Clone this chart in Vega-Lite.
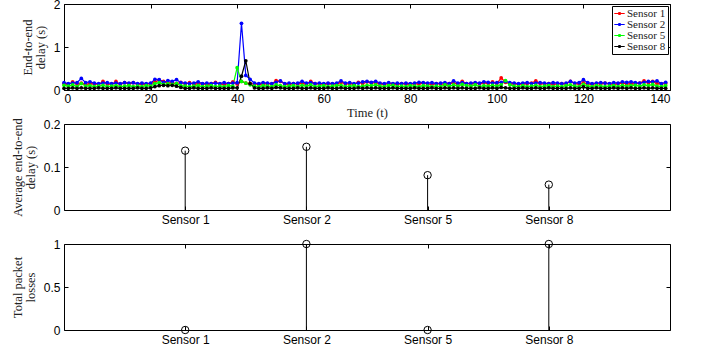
{
"$schema": "https://vega.github.io/schema/vega-lite/v6.json",
"padding": {"left": 10, "top": -3, "right": 0, "bottom": 0},
"background": "white",
"config": {
  "view": {"stroke": "black", "strokeWidth": 1},
  "axis": {"domain": false, "grid": false, "tickColor": "black", "tickSize": -4, "tickWidth": 1, "labelFont": "Liberation Sans", "labelFontSize": 12, "labelColor": "black", "titleFont": "Liberation Serif", "titleFontSize": 12.5, "titleFontWeight": "normal", "titleColor": "#222", "titleLineHeight": 13, "labelPadding": 8},
  "legend": {"labelFont": "Liberation Serif", "labelFontSize": 11, "labelColor": "#222"}
},
"datasets": {
"delay": [
{"t":0,"s":"Sensor 1","d":0.15},{"t":1,"s":"Sensor 1","d":0.13},{"t":2,"s":"Sensor 1","d":0.19},{"t":3,"s":"Sensor 1","d":0.14},{"t":4,"s":"Sensor 1","d":0.16},{"t":5,"s":"Sensor 1","d":0.13},{"t":6,"s":"Sensor 1","d":0.15},{"t":7,"s":"Sensor 1","d":0.14},{"t":8,"s":"Sensor 1","d":0.13},{"t":9,"s":"Sensor 1","d":0.20},
{"t":10,"s":"Sensor 1","d":0.14},{"t":11,"s":"Sensor 1","d":0.13},{"t":12,"s":"Sensor 1","d":0.20},{"t":13,"s":"Sensor 1","d":0.13},{"t":14,"s":"Sensor 1","d":0.17},{"t":15,"s":"Sensor 1","d":0.14},{"t":16,"s":"Sensor 1","d":0.17},{"t":17,"s":"Sensor 1","d":0.13},{"t":18,"s":"Sensor 1","d":0.14},{"t":19,"s":"Sensor 1","d":0.13},
{"t":20,"s":"Sensor 1","d":0.15},{"t":21,"s":"Sensor 1","d":0.19},{"t":22,"s":"Sensor 1","d":0.23},{"t":23,"s":"Sensor 1","d":0.20},{"t":24,"s":"Sensor 1","d":0.16},{"t":25,"s":"Sensor 1","d":0.17},{"t":26,"s":"Sensor 1","d":0.15},{"t":27,"s":"Sensor 1","d":0.18},{"t":28,"s":"Sensor 1","d":0.14},{"t":29,"s":"Sensor 1","d":0.17},
{"t":30,"s":"Sensor 1","d":0.13},{"t":31,"s":"Sensor 1","d":0.15},{"t":32,"s":"Sensor 1","d":0.14},{"t":33,"s":"Sensor 1","d":0.13},{"t":34,"s":"Sensor 1","d":0.15},{"t":35,"s":"Sensor 1","d":0.18},{"t":36,"s":"Sensor 1","d":0.14},{"t":37,"s":"Sensor 1","d":0.13},{"t":38,"s":"Sensor 1","d":0.15},{"t":39,"s":"Sensor 1","d":0.19},
{"t":40,"s":"Sensor 1","d":0.14},{"t":41,"s":"Sensor 1","d":0.20},{"t":42,"s":"Sensor 1","d":0.16},{"t":43,"s":"Sensor 1","d":0.15},{"t":44,"s":"Sensor 1","d":0.14},{"t":45,"s":"Sensor 1","d":0.13},{"t":46,"s":"Sensor 1","d":0.14},{"t":47,"s":"Sensor 1","d":0.15},{"t":48,"s":"Sensor 1","d":0.14},{"t":49,"s":"Sensor 1","d":0.22},
{"t":50,"s":"Sensor 1","d":0.20},{"t":51,"s":"Sensor 1","d":0.14},{"t":52,"s":"Sensor 1","d":0.13},{"t":53,"s":"Sensor 1","d":0.15},{"t":54,"s":"Sensor 1","d":0.14},{"t":55,"s":"Sensor 1","d":0.16},{"t":56,"s":"Sensor 1","d":0.13},{"t":57,"s":"Sensor 1","d":0.20},{"t":58,"s":"Sensor 1","d":0.15},{"t":59,"s":"Sensor 1","d":0.14},
{"t":60,"s":"Sensor 1","d":0.13},{"t":61,"s":"Sensor 1","d":0.15},{"t":62,"s":"Sensor 1","d":0.14},{"t":63,"s":"Sensor 1","d":0.13},{"t":64,"s":"Sensor 1","d":0.18},{"t":65,"s":"Sensor 1","d":0.14},{"t":66,"s":"Sensor 1","d":0.15},{"t":67,"s":"Sensor 1","d":0.13},{"t":68,"s":"Sensor 1","d":0.18},{"t":69,"s":"Sensor 1","d":0.15},
{"t":70,"s":"Sensor 1","d":0.19},{"t":71,"s":"Sensor 1","d":0.16},{"t":72,"s":"Sensor 1","d":0.17},{"t":73,"s":"Sensor 1","d":0.14},{"t":74,"s":"Sensor 1","d":0.13},{"t":75,"s":"Sensor 1","d":0.15},{"t":76,"s":"Sensor 1","d":0.14},{"t":77,"s":"Sensor 1","d":0.13},{"t":78,"s":"Sensor 1","d":0.15},{"t":79,"s":"Sensor 1","d":0.14},
{"t":80,"s":"Sensor 1","d":0.13},{"t":81,"s":"Sensor 1","d":0.15},{"t":82,"s":"Sensor 1","d":0.14},{"t":83,"s":"Sensor 1","d":0.16},{"t":84,"s":"Sensor 1","d":0.14},{"t":85,"s":"Sensor 1","d":0.13},{"t":86,"s":"Sensor 1","d":0.15},{"t":87,"s":"Sensor 1","d":0.14},{"t":88,"s":"Sensor 1","d":0.13},{"t":89,"s":"Sensor 1","d":0.15},
{"t":90,"s":"Sensor 1","d":0.16},{"t":91,"s":"Sensor 1","d":0.14},{"t":92,"s":"Sensor 1","d":0.20},{"t":93,"s":"Sensor 1","d":0.15},{"t":94,"s":"Sensor 1","d":0.14},{"t":95,"s":"Sensor 1","d":0.16},{"t":96,"s":"Sensor 1","d":0.14},{"t":97,"s":"Sensor 1","d":0.17},{"t":98,"s":"Sensor 1","d":0.15},{"t":99,"s":"Sensor 1","d":0.19},
{"t":100,"s":"Sensor 1","d":0.15},{"t":101,"s":"Sensor 1","d":0.28},{"t":102,"s":"Sensor 1","d":0.18},{"t":103,"s":"Sensor 1","d":0.14},{"t":104,"s":"Sensor 1","d":0.15},{"t":105,"s":"Sensor 1","d":0.13},{"t":106,"s":"Sensor 1","d":0.14},{"t":107,"s":"Sensor 1","d":0.15},{"t":108,"s":"Sensor 1","d":0.16},{"t":109,"s":"Sensor 1","d":0.21},
{"t":110,"s":"Sensor 1","d":0.15},{"t":111,"s":"Sensor 1","d":0.14},{"t":112,"s":"Sensor 1","d":0.15},{"t":113,"s":"Sensor 1","d":0.13},{"t":114,"s":"Sensor 1","d":0.14},{"t":115,"s":"Sensor 1","d":0.15},{"t":116,"s":"Sensor 1","d":0.14},{"t":117,"s":"Sensor 1","d":0.20},{"t":118,"s":"Sensor 1","d":0.15},{"t":119,"s":"Sensor 1","d":0.14},
{"t":120,"s":"Sensor 1","d":0.17},{"t":121,"s":"Sensor 1","d":0.14},{"t":122,"s":"Sensor 1","d":0.13},{"t":123,"s":"Sensor 1","d":0.15},{"t":124,"s":"Sensor 1","d":0.14},{"t":125,"s":"Sensor 1","d":0.16},{"t":126,"s":"Sensor 1","d":0.14},{"t":127,"s":"Sensor 1","d":0.13},{"t":128,"s":"Sensor 1","d":0.15},{"t":129,"s":"Sensor 1","d":0.16},
{"t":130,"s":"Sensor 1","d":0.14},{"t":131,"s":"Sensor 1","d":0.15},{"t":132,"s":"Sensor 1","d":0.14},{"t":133,"s":"Sensor 1","d":0.16},{"t":134,"s":"Sensor 1","d":0.21},{"t":135,"s":"Sensor 1","d":0.16},{"t":136,"s":"Sensor 1","d":0.20},{"t":137,"s":"Sensor 1","d":0.15},{"t":138,"s":"Sensor 1","d":0.14},{"t":139,"s":"Sensor 1","d":0.15},
{"t":0,"s":"Sensor 2","d":0.17},{"t":1,"s":"Sensor 2","d":0.15},{"t":2,"s":"Sensor 2","d":0.16},{"t":3,"s":"Sensor 2","d":0.17},{"t":4,"s":"Sensor 2","d":0.27},{"t":5,"s":"Sensor 2","d":0.17},{"t":6,"s":"Sensor 2","d":0.19},{"t":7,"s":"Sensor 2","d":0.16},{"t":8,"s":"Sensor 2","d":0.15},{"t":9,"s":"Sensor 2","d":0.16},
{"t":10,"s":"Sensor 2","d":0.17},{"t":11,"s":"Sensor 2","d":0.15},{"t":12,"s":"Sensor 2","d":0.16},{"t":13,"s":"Sensor 2","d":0.15},{"t":14,"s":"Sensor 2","d":0.17},{"t":15,"s":"Sensor 2","d":0.16},{"t":16,"s":"Sensor 2","d":0.17},{"t":17,"s":"Sensor 2","d":0.15},{"t":18,"s":"Sensor 2","d":0.16},{"t":19,"s":"Sensor 2","d":0.15},
{"t":20,"s":"Sensor 2","d":0.16},{"t":21,"s":"Sensor 2","d":0.25},{"t":22,"s":"Sensor 2","d":0.24},{"t":23,"s":"Sensor 2","d":0.18},{"t":24,"s":"Sensor 2","d":0.22},{"t":25,"s":"Sensor 2","d":0.20},{"t":26,"s":"Sensor 2","d":0.24},{"t":27,"s":"Sensor 2","d":0.17},{"t":28,"s":"Sensor 2","d":0.16},{"t":29,"s":"Sensor 2","d":0.15},
{"t":30,"s":"Sensor 2","d":0.16},{"t":31,"s":"Sensor 2","d":0.19},{"t":32,"s":"Sensor 2","d":0.15},{"t":33,"s":"Sensor 2","d":0.16},{"t":34,"s":"Sensor 2","d":0.15},{"t":35,"s":"Sensor 2","d":0.16},{"t":36,"s":"Sensor 2","d":0.15},{"t":37,"s":"Sensor 2","d":0.17},{"t":38,"s":"Sensor 2","d":0.15},{"t":39,"s":"Sensor 2","d":0.16},
{"t":40,"s":"Sensor 2","d":0.17},{"t":41,"s":"Sensor 2","d":1.55},{"t":42,"s":"Sensor 2","d":0.34},{"t":43,"s":"Sensor 2","d":0.25},{"t":44,"s":"Sensor 2","d":0.16},{"t":45,"s":"Sensor 2","d":0.15},{"t":46,"s":"Sensor 2","d":0.17},{"t":47,"s":"Sensor 2","d":0.16},{"t":48,"s":"Sensor 2","d":0.15},{"t":49,"s":"Sensor 2","d":0.18},
{"t":50,"s":"Sensor 2","d":0.21},{"t":51,"s":"Sensor 2","d":0.15},{"t":52,"s":"Sensor 2","d":0.16},{"t":53,"s":"Sensor 2","d":0.15},{"t":54,"s":"Sensor 2","d":0.16},{"t":55,"s":"Sensor 2","d":0.20},{"t":56,"s":"Sensor 2","d":0.16},{"t":57,"s":"Sensor 2","d":0.17},{"t":58,"s":"Sensor 2","d":0.15},{"t":59,"s":"Sensor 2","d":0.16},
{"t":60,"s":"Sensor 2","d":0.15},{"t":61,"s":"Sensor 2","d":0.16},{"t":62,"s":"Sensor 2","d":0.15},{"t":63,"s":"Sensor 2","d":0.16},{"t":64,"s":"Sensor 2","d":0.21},{"t":65,"s":"Sensor 2","d":0.16},{"t":66,"s":"Sensor 2","d":0.17},{"t":67,"s":"Sensor 2","d":0.15},{"t":68,"s":"Sensor 2","d":0.16},{"t":69,"s":"Sensor 2","d":0.19},
{"t":70,"s":"Sensor 2","d":0.20},{"t":71,"s":"Sensor 2","d":0.18},{"t":72,"s":"Sensor 2","d":0.20},{"t":73,"s":"Sensor 2","d":0.16},{"t":74,"s":"Sensor 2","d":0.15},{"t":75,"s":"Sensor 2","d":0.17},{"t":76,"s":"Sensor 2","d":0.15},{"t":77,"s":"Sensor 2","d":0.16},{"t":78,"s":"Sensor 2","d":0.15},{"t":79,"s":"Sensor 2","d":0.16},
{"t":80,"s":"Sensor 2","d":0.15},{"t":81,"s":"Sensor 2","d":0.16},{"t":82,"s":"Sensor 2","d":0.18},{"t":83,"s":"Sensor 2","d":0.17},{"t":84,"s":"Sensor 2","d":0.16},{"t":85,"s":"Sensor 2","d":0.17},{"t":86,"s":"Sensor 2","d":0.15},{"t":87,"s":"Sensor 2","d":0.16},{"t":88,"s":"Sensor 2","d":0.17},{"t":89,"s":"Sensor 2","d":0.15},
{"t":90,"s":"Sensor 2","d":0.21},{"t":91,"s":"Sensor 2","d":0.16},{"t":92,"s":"Sensor 2","d":0.17},{"t":93,"s":"Sensor 2","d":0.15},{"t":94,"s":"Sensor 2","d":0.16},{"t":95,"s":"Sensor 2","d":0.17},{"t":96,"s":"Sensor 2","d":0.16},{"t":97,"s":"Sensor 2","d":0.19},{"t":98,"s":"Sensor 2","d":0.18},{"t":99,"s":"Sensor 2","d":0.16},
{"t":100,"s":"Sensor 2","d":0.17},{"t":101,"s":"Sensor 2","d":0.18},{"t":102,"s":"Sensor 2","d":0.20},{"t":103,"s":"Sensor 2","d":0.17},{"t":104,"s":"Sensor 2","d":0.16},{"t":105,"s":"Sensor 2","d":0.15},{"t":106,"s":"Sensor 2","d":0.16},{"t":107,"s":"Sensor 2","d":0.17},{"t":108,"s":"Sensor 2","d":0.15},{"t":109,"s":"Sensor 2","d":0.16},
{"t":110,"s":"Sensor 2","d":0.17},{"t":111,"s":"Sensor 2","d":0.16},{"t":112,"s":"Sensor 2","d":0.15},{"t":113,"s":"Sensor 2","d":0.17},{"t":114,"s":"Sensor 2","d":0.16},{"t":115,"s":"Sensor 2","d":0.15},{"t":116,"s":"Sensor 2","d":0.16},{"t":117,"s":"Sensor 2","d":0.20},{"t":118,"s":"Sensor 2","d":0.16},{"t":119,"s":"Sensor 2","d":0.17},
{"t":120,"s":"Sensor 2","d":0.24},{"t":121,"s":"Sensor 2","d":0.17},{"t":122,"s":"Sensor 2","d":0.15},{"t":123,"s":"Sensor 2","d":0.16},{"t":124,"s":"Sensor 2","d":0.17},{"t":125,"s":"Sensor 2","d":0.16},{"t":126,"s":"Sensor 2","d":0.15},{"t":127,"s":"Sensor 2","d":0.17},{"t":128,"s":"Sensor 2","d":0.16},{"t":129,"s":"Sensor 2","d":0.19},
{"t":130,"s":"Sensor 2","d":0.18},{"t":131,"s":"Sensor 2","d":0.19},{"t":132,"s":"Sensor 2","d":0.17},{"t":133,"s":"Sensor 2","d":0.16},{"t":134,"s":"Sensor 2","d":0.18},{"t":135,"s":"Sensor 2","d":0.20},{"t":136,"s":"Sensor 2","d":0.19},{"t":137,"s":"Sensor 2","d":0.21},{"t":138,"s":"Sensor 2","d":0.15},{"t":139,"s":"Sensor 2","d":0.18},
{"t":0,"s":"Sensor 5","d":0.11},{"t":1,"s":"Sensor 5","d":0.09},{"t":2,"s":"Sensor 5","d":0.12},{"t":3,"s":"Sensor 5","d":0.08},{"t":4,"s":"Sensor 5","d":0.15},{"t":5,"s":"Sensor 5","d":0.09},{"t":6,"s":"Sensor 5","d":0.10},{"t":7,"s":"Sensor 5","d":0.08},{"t":8,"s":"Sensor 5","d":0.09},{"t":9,"s":"Sensor 5","d":0.11},
{"t":10,"s":"Sensor 5","d":0.08},{"t":11,"s":"Sensor 5","d":0.09},{"t":12,"s":"Sensor 5","d":0.10},{"t":13,"s":"Sensor 5","d":0.08},{"t":14,"s":"Sensor 5","d":0.09},{"t":15,"s":"Sensor 5","d":0.10},{"t":16,"s":"Sensor 5","d":0.08},{"t":17,"s":"Sensor 5","d":0.09},{"t":18,"s":"Sensor 5","d":0.08},{"t":19,"s":"Sensor 5","d":0.10},
{"t":20,"s":"Sensor 5","d":0.09},{"t":21,"s":"Sensor 5","d":0.15},{"t":22,"s":"Sensor 5","d":0.17},{"t":23,"s":"Sensor 5","d":0.13},{"t":24,"s":"Sensor 5","d":0.14},{"t":25,"s":"Sensor 5","d":0.13},{"t":26,"s":"Sensor 5","d":0.15},{"t":27,"s":"Sensor 5","d":0.10},{"t":28,"s":"Sensor 5","d":0.09},{"t":29,"s":"Sensor 5","d":0.08},
{"t":30,"s":"Sensor 5","d":0.09},{"t":31,"s":"Sensor 5","d":0.10},{"t":32,"s":"Sensor 5","d":0.08},{"t":33,"s":"Sensor 5","d":0.09},{"t":34,"s":"Sensor 5","d":0.10},{"t":35,"s":"Sensor 5","d":0.08},{"t":36,"s":"Sensor 5","d":0.09},{"t":37,"s":"Sensor 5","d":0.08},{"t":38,"s":"Sensor 5","d":0.10},{"t":39,"s":"Sensor 5","d":0.09},
{"t":40,"s":"Sensor 5","d":0.52},{"t":41,"s":"Sensor 5","d":0.20},{"t":42,"s":"Sensor 5","d":0.16},{"t":43,"s":"Sensor 5","d":0.12},{"t":44,"s":"Sensor 5","d":0.09},{"t":45,"s":"Sensor 5","d":0.08},{"t":46,"s":"Sensor 5","d":0.10},{"t":47,"s":"Sensor 5","d":0.09},{"t":48,"s":"Sensor 5","d":0.08},{"t":49,"s":"Sensor 5","d":0.12},
{"t":50,"s":"Sensor 5","d":0.10},{"t":51,"s":"Sensor 5","d":0.08},{"t":52,"s":"Sensor 5","d":0.09},{"t":53,"s":"Sensor 5","d":0.10},{"t":54,"s":"Sensor 5","d":0.08},{"t":55,"s":"Sensor 5","d":0.11},{"t":56,"s":"Sensor 5","d":0.09},{"t":57,"s":"Sensor 5","d":0.12},{"t":58,"s":"Sensor 5","d":0.08},{"t":59,"s":"Sensor 5","d":0.09},
{"t":60,"s":"Sensor 5","d":0.10},{"t":61,"s":"Sensor 5","d":0.08},{"t":62,"s":"Sensor 5","d":0.09},{"t":63,"s":"Sensor 5","d":0.10},{"t":64,"s":"Sensor 5","d":0.11},{"t":65,"s":"Sensor 5","d":0.08},{"t":66,"s":"Sensor 5","d":0.09},{"t":67,"s":"Sensor 5","d":0.10},{"t":68,"s":"Sensor 5","d":0.08},{"t":69,"s":"Sensor 5","d":0.09},
{"t":70,"s":"Sensor 5","d":0.11},{"t":71,"s":"Sensor 5","d":0.10},{"t":72,"s":"Sensor 5","d":0.12},{"t":73,"s":"Sensor 5","d":0.09},{"t":74,"s":"Sensor 5","d":0.08},{"t":75,"s":"Sensor 5","d":0.10},{"t":76,"s":"Sensor 5","d":0.11},{"t":77,"s":"Sensor 5","d":0.08},{"t":78,"s":"Sensor 5","d":0.09},{"t":79,"s":"Sensor 5","d":0.08},
{"t":80,"s":"Sensor 5","d":0.10},{"t":81,"s":"Sensor 5","d":0.09},{"t":82,"s":"Sensor 5","d":0.08},{"t":83,"s":"Sensor 5","d":0.10},{"t":84,"s":"Sensor 5","d":0.09},{"t":85,"s":"Sensor 5","d":0.08},{"t":86,"s":"Sensor 5","d":0.09},{"t":87,"s":"Sensor 5","d":0.08},{"t":88,"s":"Sensor 5","d":0.12},{"t":89,"s":"Sensor 5","d":0.09},
{"t":90,"s":"Sensor 5","d":0.12},{"t":91,"s":"Sensor 5","d":0.09},{"t":92,"s":"Sensor 5","d":0.13},{"t":93,"s":"Sensor 5","d":0.10},{"t":94,"s":"Sensor 5","d":0.09},{"t":95,"s":"Sensor 5","d":0.12},{"t":96,"s":"Sensor 5","d":0.08},{"t":97,"s":"Sensor 5","d":0.10},{"t":98,"s":"Sensor 5","d":0.09},{"t":99,"s":"Sensor 5","d":0.11},
{"t":100,"s":"Sensor 5","d":0.09},{"t":101,"s":"Sensor 5","d":0.12},{"t":102,"s":"Sensor 5","d":0.22},{"t":103,"s":"Sensor 5","d":0.12},{"t":104,"s":"Sensor 5","d":0.09},{"t":105,"s":"Sensor 5","d":0.08},{"t":106,"s":"Sensor 5","d":0.10},{"t":107,"s":"Sensor 5","d":0.08},{"t":108,"s":"Sensor 5","d":0.09},{"t":109,"s":"Sensor 5","d":0.11},
{"t":110,"s":"Sensor 5","d":0.08},{"t":111,"s":"Sensor 5","d":0.09},{"t":112,"s":"Sensor 5","d":0.10},{"t":113,"s":"Sensor 5","d":0.08},{"t":114,"s":"Sensor 5","d":0.09},{"t":115,"s":"Sensor 5","d":0.08},{"t":116,"s":"Sensor 5","d":0.10},{"t":117,"s":"Sensor 5","d":0.12},{"t":118,"s":"Sensor 5","d":0.09},{"t":119,"s":"Sensor 5","d":0.08},
{"t":120,"s":"Sensor 5","d":0.13},{"t":121,"s":"Sensor 5","d":0.09},{"t":122,"s":"Sensor 5","d":0.08},{"t":123,"s":"Sensor 5","d":0.10},{"t":124,"s":"Sensor 5","d":0.09},{"t":125,"s":"Sensor 5","d":0.08},{"t":126,"s":"Sensor 5","d":0.09},{"t":127,"s":"Sensor 5","d":0.10},{"t":128,"s":"Sensor 5","d":0.08},{"t":129,"s":"Sensor 5","d":0.11},
{"t":130,"s":"Sensor 5","d":0.09},{"t":131,"s":"Sensor 5","d":0.10},{"t":132,"s":"Sensor 5","d":0.11},{"t":133,"s":"Sensor 5","d":0.09},{"t":134,"s":"Sensor 5","d":0.12},{"t":135,"s":"Sensor 5","d":0.10},{"t":136,"s":"Sensor 5","d":0.13},{"t":137,"s":"Sensor 5","d":0.09},{"t":138,"s":"Sensor 5","d":0.08},{"t":139,"s":"Sensor 5","d":0.10},
{"t":0,"s":"Sensor 8","d":0.04},{"t":1,"s":"Sensor 8","d":0.04},{"t":2,"s":"Sensor 8","d":0.05},{"t":3,"s":"Sensor 8","d":0.04},{"t":4,"s":"Sensor 8","d":0.05},{"t":5,"s":"Sensor 8","d":0.04},{"t":6,"s":"Sensor 8","d":0.04},{"t":7,"s":"Sensor 8","d":0.04},{"t":8,"s":"Sensor 8","d":0.05},{"t":9,"s":"Sensor 8","d":0.04},
{"t":10,"s":"Sensor 8","d":0.04},{"t":11,"s":"Sensor 8","d":0.04},{"t":12,"s":"Sensor 8","d":0.05},{"t":13,"s":"Sensor 8","d":0.04},{"t":14,"s":"Sensor 8","d":0.04},{"t":15,"s":"Sensor 8","d":0.04},{"t":16,"s":"Sensor 8","d":0.04},{"t":17,"s":"Sensor 8","d":0.05},{"t":18,"s":"Sensor 8","d":0.04},{"t":19,"s":"Sensor 8","d":0.04},
{"t":20,"s":"Sensor 8","d":0.05},{"t":21,"s":"Sensor 8","d":0.08},{"t":22,"s":"Sensor 8","d":0.10},{"t":23,"s":"Sensor 8","d":0.11},{"t":24,"s":"Sensor 8","d":0.10},{"t":25,"s":"Sensor 8","d":0.11},{"t":26,"s":"Sensor 8","d":0.09},{"t":27,"s":"Sensor 8","d":0.06},{"t":28,"s":"Sensor 8","d":0.04},{"t":29,"s":"Sensor 8","d":0.04},
{"t":30,"s":"Sensor 8","d":0.05},{"t":31,"s":"Sensor 8","d":0.04},{"t":32,"s":"Sensor 8","d":0.04},{"t":33,"s":"Sensor 8","d":0.04},{"t":34,"s":"Sensor 8","d":0.05},{"t":35,"s":"Sensor 8","d":0.04},{"t":36,"s":"Sensor 8","d":0.04},{"t":37,"s":"Sensor 8","d":0.04},{"t":38,"s":"Sensor 8","d":0.04},{"t":39,"s":"Sensor 8","d":0.05},
{"t":40,"s":"Sensor 8","d":0.05},{"t":41,"s":"Sensor 8","d":0.32},{"t":42,"s":"Sensor 8","d":0.68},{"t":43,"s":"Sensor 8","d":0.15},{"t":44,"s":"Sensor 8","d":0.05},{"t":45,"s":"Sensor 8","d":0.04},{"t":46,"s":"Sensor 8","d":0.04},{"t":47,"s":"Sensor 8","d":0.05},{"t":48,"s":"Sensor 8","d":0.04},{"t":49,"s":"Sensor 8","d":0.06},
{"t":50,"s":"Sensor 8","d":0.05},{"t":51,"s":"Sensor 8","d":0.04},{"t":52,"s":"Sensor 8","d":0.04},{"t":53,"s":"Sensor 8","d":0.04},{"t":54,"s":"Sensor 8","d":0.05},{"t":55,"s":"Sensor 8","d":0.04},{"t":56,"s":"Sensor 8","d":0.04},{"t":57,"s":"Sensor 8","d":0.05},{"t":58,"s":"Sensor 8","d":0.04},{"t":59,"s":"Sensor 8","d":0.04},
{"t":60,"s":"Sensor 8","d":0.04},{"t":61,"s":"Sensor 8","d":0.05},{"t":62,"s":"Sensor 8","d":0.04},{"t":63,"s":"Sensor 8","d":0.04},{"t":64,"s":"Sensor 8","d":0.05},{"t":65,"s":"Sensor 8","d":0.04},{"t":66,"s":"Sensor 8","d":0.04},{"t":67,"s":"Sensor 8","d":0.04},{"t":68,"s":"Sensor 8","d":0.05},{"t":69,"s":"Sensor 8","d":0.04},
{"t":70,"s":"Sensor 8","d":0.05},{"t":71,"s":"Sensor 8","d":0.04},{"t":72,"s":"Sensor 8","d":0.05},{"t":73,"s":"Sensor 8","d":0.04},{"t":74,"s":"Sensor 8","d":0.04},{"t":75,"s":"Sensor 8","d":0.04},{"t":76,"s":"Sensor 8","d":0.05},{"t":77,"s":"Sensor 8","d":0.04},{"t":78,"s":"Sensor 8","d":0.04},{"t":79,"s":"Sensor 8","d":0.04},
{"t":80,"s":"Sensor 8","d":0.04},{"t":81,"s":"Sensor 8","d":0.05},{"t":82,"s":"Sensor 8","d":0.04},{"t":83,"s":"Sensor 8","d":0.04},{"t":84,"s":"Sensor 8","d":0.04},{"t":85,"s":"Sensor 8","d":0.05},{"t":86,"s":"Sensor 8","d":0.04},{"t":87,"s":"Sensor 8","d":0.04},{"t":88,"s":"Sensor 8","d":0.05},{"t":89,"s":"Sensor 8","d":0.04},
{"t":90,"s":"Sensor 8","d":0.05},{"t":91,"s":"Sensor 8","d":0.04},{"t":92,"s":"Sensor 8","d":0.05},{"t":93,"s":"Sensor 8","d":0.04},{"t":94,"s":"Sensor 8","d":0.04},{"t":95,"s":"Sensor 8","d":0.04},{"t":96,"s":"Sensor 8","d":0.05},{"t":97,"s":"Sensor 8","d":0.04},{"t":98,"s":"Sensor 8","d":0.04},{"t":99,"s":"Sensor 8","d":0.05},
{"t":100,"s":"Sensor 8","d":0.04},{"t":101,"s":"Sensor 8","d":0.06},{"t":102,"s":"Sensor 8","d":0.05},{"t":103,"s":"Sensor 8","d":0.04},{"t":104,"s":"Sensor 8","d":0.04},{"t":105,"s":"Sensor 8","d":0.04},{"t":106,"s":"Sensor 8","d":0.05},{"t":107,"s":"Sensor 8","d":0.04},{"t":108,"s":"Sensor 8","d":0.04},{"t":109,"s":"Sensor 8","d":0.05},
{"t":110,"s":"Sensor 8","d":0.04},{"t":111,"s":"Sensor 8","d":0.04},{"t":112,"s":"Sensor 8","d":0.05},{"t":113,"s":"Sensor 8","d":0.04},{"t":114,"s":"Sensor 8","d":0.04},{"t":115,"s":"Sensor 8","d":0.04},{"t":116,"s":"Sensor 8","d":0.04},{"t":117,"s":"Sensor 8","d":0.05},{"t":118,"s":"Sensor 8","d":0.04},{"t":119,"s":"Sensor 8","d":0.04},
{"t":120,"s":"Sensor 8","d":0.07},{"t":121,"s":"Sensor 8","d":0.04},{"t":122,"s":"Sensor 8","d":0.04},{"t":123,"s":"Sensor 8","d":0.05},{"t":124,"s":"Sensor 8","d":0.04},{"t":125,"s":"Sensor 8","d":0.04},{"t":126,"s":"Sensor 8","d":0.04},{"t":127,"s":"Sensor 8","d":0.05},{"t":128,"s":"Sensor 8","d":0.04},{"t":129,"s":"Sensor 8","d":0.05},
{"t":130,"s":"Sensor 8","d":0.04},{"t":131,"s":"Sensor 8","d":0.05},{"t":132,"s":"Sensor 8","d":0.04},{"t":133,"s":"Sensor 8","d":0.04},{"t":134,"s":"Sensor 8","d":0.05},{"t":135,"s":"Sensor 8","d":0.04},{"t":136,"s":"Sensor 8","d":0.05},{"t":137,"s":"Sensor 8","d":0.04},{"t":138,"s":"Sensor 8","d":0.04},{"t":139,"s":"Sensor 8","d":0.04}
],
"avg": [
{"sensor":"Sensor 1","delay":0.138},{"sensor":"Sensor 2","delay":0.147},{"sensor":"Sensor 5","delay":0.081},{"sensor":"Sensor 8","delay":0.059}
],
"loss": [
{"sensor":"Sensor 1","loss":0},{"sensor":"Sensor 2","loss":1},{"sensor":"Sensor 5","loss":0},{"sensor":"Sensor 8","loss":1}
]
},
"vconcat": [
{
  "width": 606, "height": 86,
  "data": {"name": "delay"},
  "layer": [
    {
      "mark": {"type": "line", "strokeWidth": 1.2, "point": {"filled": true, "size": 14}},
      "encoding": {
        "x": {"field": "t", "type": "quantitative", "scale": {"domain": [0, 140], "nice": false}, "axis": {"values": [0,20,40,60,80,100,120,140], "title": "Time (t)", "titlePadding": 2, "labelPadding": 7}},
        "y": {"field": "d", "type": "quantitative", "scale": {"domain": [0, 2], "nice": false}, "axis": {"values": [0,1,2], "format": "~g", "title": ["End-to-end", "delay (s)"], "titlePadding": 6}},
        "color": {"field": "s", "type": "nominal", "scale": {"domain": ["Sensor 1","Sensor 2","Sensor 5","Sensor 8"], "range": ["#ff0000","#0000ff","#00ff00","#000000"]},
          "legend": {"title": null, "orient": "top-right", "offset": 2, "strokeColor": "black", "fillColor": "white", "padding": 2, "rowPadding": -3, "symbolType": "M-1.3,0H1.3M-0.25,0A0.25,0.25,0,1,1,0.25,0A0.25,0.25,0,1,1,-0.25,0Z", "symbolSize": 64, "symbolStrokeWidth": 1.2, "labelOffset": 2}}
      }
    },
    {
      "mark": {"type": "point", "opacity": 0},
      "encoding": {
        "x": {"field": "t", "type": "quantitative", "axis": {"orient": "top", "values": [0,20,40,60,80,100,120,140], "labels": false, "title": null}},
        "y": {"field": "d", "type": "quantitative", "axis": {"orient": "right", "values": [0,1,2], "labels": false, "title": null}}
      }
    }
  ],
  "resolve": {"axis": {"x": "independent", "y": "independent"}}
},
{
  "width": 606, "height": 86,
  "data": {"name": "avg"},
  "layer": [
    {
      "mark": {"type": "rule", "color": "black", "strokeWidth": 1},
      "encoding": {
        "x": {"field": "sensor", "type": "nominal", "sort": null, "scale": {"type": "point", "padding": 1}, "axis": {"title": null, "labelAngle": 0, "labelPadding": 8}},
        "y": {"field": "delay", "type": "quantitative", "scale": {"domain": [0, 0.2], "nice": false}, "axis": {"values": [0, 0.1, 0.2], "format": "~g", "title": ["Average end-to-end", "delay (s)"], "titlePadding": 6}},
        "y2": {"datum": 0}
      }
    },
    {
      "mark": {"type": "point", "filled": false, "color": "black", "size": 55, "strokeWidth": 1, "opacity": 1},
      "encoding": {
        "x": {"field": "sensor", "type": "nominal", "sort": null, "axis": null},
        "y": {"field": "delay", "type": "quantitative", "axis": null}
      }
    },
    {
      "mark": {"type": "point", "opacity": 0},
      "encoding": {
        "x": {"field": "sensor", "type": "nominal", "sort": null, "axis": {"orient": "top", "labels": false, "title": null}},
        "y": {"field": "delay", "type": "quantitative", "axis": {"orient": "right", "values": [0, 0.1, 0.2], "labels": false, "title": null}}
      }
    }
  ],
  "resolve": {"axis": {"x": "independent", "y": "independent"}}
},
{
  "width": 606, "height": 86,
  "data": {"name": "loss"},
  "layer": [
    {
      "mark": {"type": "rule", "color": "black", "strokeWidth": 1},
      "encoding": {
        "x": {"field": "sensor", "type": "nominal", "sort": null, "scale": {"type": "point", "padding": 1}, "axis": {"title": null, "labelAngle": 0, "labelPadding": 8}},
        "y": {"field": "loss", "type": "quantitative", "scale": {"domain": [0, 1], "nice": false}, "axis": {"values": [0, 0.5, 1], "format": "~g", "title": ["Total packet", "losses"], "titlePadding": 6}},
        "y2": {"datum": 0}
      }
    },
    {
      "mark": {"type": "point", "filled": false, "color": "black", "size": 55, "strokeWidth": 1, "opacity": 1, "clip": false},
      "encoding": {
        "x": {"field": "sensor", "type": "nominal", "sort": null, "axis": null},
        "y": {"field": "loss", "type": "quantitative", "axis": null}
      }
    },
    {
      "mark": {"type": "point", "opacity": 0},
      "encoding": {
        "x": {"field": "sensor", "type": "nominal", "sort": null, "axis": {"orient": "top", "labels": false, "title": null}},
        "y": {"field": "loss", "type": "quantitative", "axis": {"orient": "right", "values": [0, 0.5, 1], "labels": false, "title": null}}
      }
    }
  ],
  "resolve": {"axis": {"x": "independent", "y": "independent"}}
}
],
"spacing": 34,
"bounds": "flush"
}
